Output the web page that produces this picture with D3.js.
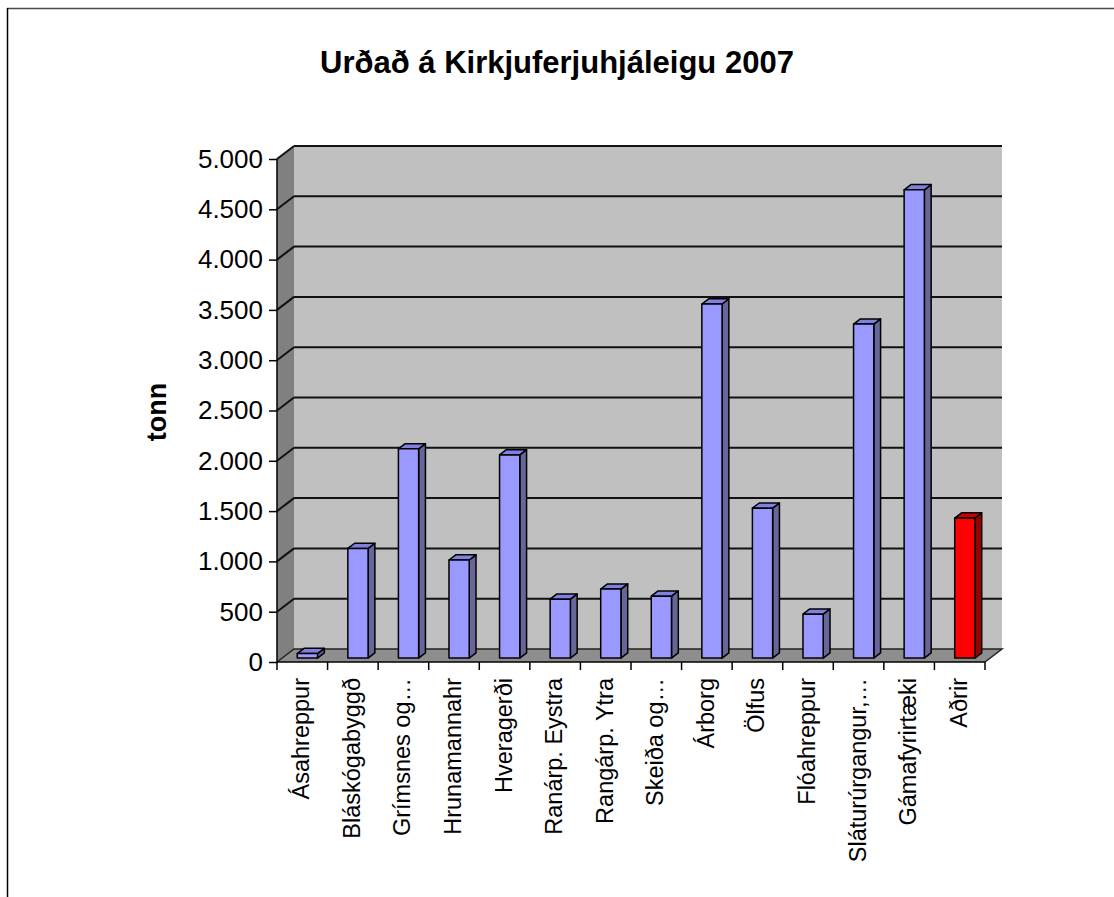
<!DOCTYPE html>
<html>
<head>
<meta charset="utf-8">
<script src="https://cdn.jsdelivr.net/npm/d3@7"></script>
<style>
  html, body { margin: 0; padding: 0; background: #ffffff; }
  svg { display: block; font-family: "Liberation Sans", Arial, sans-serif; }
</style>
</head>
<body>
<svg id="chart" width="1114" height="897"></svg>
<script>
(function () {
// ---- data ----
const categories = ["Ásahreppur", "Bláskógabyggð", "Grímsnes og…", "Hrunamannahr", "Hveragerði",
  "Ranárp. Eystra", "Rangárp. Ytra", "Skeiða og…", "Árborg", "Ölfus", "Flóahreppur",
  "Sláturúrgangur,…", "Gámafyrirtæki", "Aðrir"];
const values = [45, 1090, 2080, 975, 2020, 586, 686, 616, 3520, 1490, 437, 3320, 4655, 1392];
const highlighted = [false, false, false, false, false, false, false, false, false, false, false, false, false, true];
const yTicks = [0, 500, 1000, 1500, 2000, 2500, 3000, 3500, 4000, 4500, 5000];
const title = "Urðað á Kirkjuferjuhjáleigu 2007";
const yTitle = "tonn";

// ---- layout ----
const svg = d3.select("#chart");
const W = 1114, H = 897;
const pLeft = 277, pRight = 985, pBottom = 662, pTop = 159;
const DX = 17, DY = -13;           // depth offset of the back wall
const f1 = 0.3, f2 = 0.7;          // bar depth span

const x = d3.scaleBand().domain(categories).range([pLeft, pRight]).paddingInner(0).paddingOuter(0);
const y = d3.scaleLinear().domain([0, 5000]).range([pBottom, pTop]);

const loc = d3.formatLocale({decimal: ",", thousands: ".", grouping: [3], currency: ["", ""]});
const fmt = loc.format(",");

// outer frame (cropped)
svg.append("line").attr("x1", 7).attr("x2", W).attr("y1", 8.5).attr("y2", 8.5)
  .attr("stroke", "#4a4a4a").attr("stroke-width", 1.5);
svg.append("line").attr("x1", 7.5).attr("x2", 7.5).attr("y1", 8).attr("y2", H)
  .attr("stroke", "#000").attr("stroke-width", 1.5);

// title
svg.append("text").attr("x", 557).attr("y", 73).attr("text-anchor", "middle")
  .attr("font-size", 31).attr("font-weight", "bold").attr("fill", "#000").text(title);

const g = svg.append("g");

// left wall
g.append("polygon")
  .attr("points", [[pLeft, pBottom], [pLeft, pTop], [pLeft + DX, pTop + DY], [pLeft + DX, pBottom + DY]].join(" "))
  .attr("fill", "#808080");
// back wall
g.append("polygon")
  .attr("points", [[pLeft + DX, pTop + DY], [pRight + DX, pTop + DY], [pRight + DX, pBottom + DY], [pLeft + DX, pBottom + DY]].join(" "))
  .attr("fill", "#c0c0c0");
// floor
g.append("polygon")
  .attr("points", [[pLeft, pBottom], [pRight, pBottom], [pRight + DX, pBottom + DY], [pLeft + DX, pBottom + DY]].join(" "))
  .attr("fill", "#8e8e8e");

// gridlines
yTicks.forEach(v => {
  if (v === 0) return;
  g.append("line").attr("x1", pLeft + DX).attr("x2", pRight + DX)
    .attr("y1", y(v) + DY).attr("y2", y(v) + DY).attr("stroke", "#111").attr("stroke-width", 2);
  g.append("line").attr("x1", pLeft).attr("x2", pLeft + DX)
    .attr("y1", y(v)).attr("y2", y(v) + DY).attr("stroke", "#111").attr("stroke-width", 2);
});
// floor outline (back and right edges)
g.append("polyline")
  .attr("points", [[pLeft, pBottom], [pLeft + DX, pBottom + DY], [pRight + DX, pBottom + DY], [pRight, pBottom]].join(" "))
  .attr("fill", "none").attr("stroke", "#222").attr("stroke-width", 1.5);

// bars
const bw = x.bandwidth() * 0.4, boff = x.bandwidth() * 0.3;
const dd = f2 - f1;
categories.forEach((c, i) => {
  const v = values[i];
  const x0 = x(c) + boff + DX * f1;
  const yb = y(0) + DY * f1;
  const yt = y(v) + DY * f1;
  const ox = DX * dd, oy = DY * dd;
  const red = highlighted[i];
  const face = red ? "#ff0000" : "#9999ff";
  const side = red ? "#990000" : "#666699";
  const topc = red ? "#cc0000" : "#8080e0";
  const bg = g.append("g").attr("stroke", "#000").attr("stroke-width", 1.5).attr("stroke-linejoin", "round");
  bg.append("polygon")
    .attr("points", [[x0 + bw, yb], [x0 + bw, yt], [x0 + bw + ox, yt + oy], [x0 + bw + ox, yb + oy]].join(" "))
    .attr("fill", side);
  bg.append("polygon")
    .attr("points", [[x0, yt], [x0 + bw, yt], [x0 + bw + ox, yt + oy], [x0 + ox, yt + oy]].join(" "))
    .attr("fill", topc);
  bg.append("rect").attr("x", x0).attr("y", yt).attr("width", bw).attr("height", Math.max(0, yb - yt))
    .attr("fill", face);
});

// y axis
const yAxis = d3.axisLeft(y).tickValues(yTicks).tickFormat(fmt).tickSize(8).tickPadding(6);
const ya = svg.append("g").attr("transform", `translate(${pLeft},0)`).call(yAxis);
ya.select(".domain").remove();
ya.selectAll(".tick line").attr("stroke", "#000").attr("stroke-width", 1.5);
ya.selectAll(".tick text").attr("font-size", 26).attr("fill", "#000")
  .attr("font-family", "Liberation Sans, Arial, sans-serif");
svg.append("line").attr("x1", pLeft).attr("x2", pLeft).attr("y1", pTop).attr("y2", pBottom)
  .attr("stroke", "#000").attr("stroke-width", 1.5);

// x axis
svg.append("line").attr("x1", pLeft).attr("x2", pRight).attr("y1", pBottom).attr("y2", pBottom)
  .attr("stroke", "#000").attr("stroke-width", 1.5);
const bounds = categories.map(c => x(c)).concat([pRight]);
svg.selectAll(".xtick").data(bounds).enter().append("line")
  .attr("x1", d => d).attr("x2", d => d).attr("y1", pBottom).attr("y2", pBottom + 8)
  .attr("stroke", "#000").attr("stroke-width", 1.5);
svg.selectAll(".xlab").data(categories).enter().append("text")
  .attr("transform", d => `translate(${x(d) + x.bandwidth() / 2 - 1},678) rotate(-90)`)
  .attr("text-anchor", "end").attr("dominant-baseline", "central")
  .attr("font-size", 23.5).attr("fill", "#000").text(d => d);

// y title
svg.append("text").attr("transform", "translate(157,412) rotate(-90)")
  .attr("text-anchor", "middle").attr("dominant-baseline", "central")
  .attr("font-size", 27).attr("font-weight", "bold").attr("fill", "#000").text(yTitle);
})();
</script>
</body>
</html>
